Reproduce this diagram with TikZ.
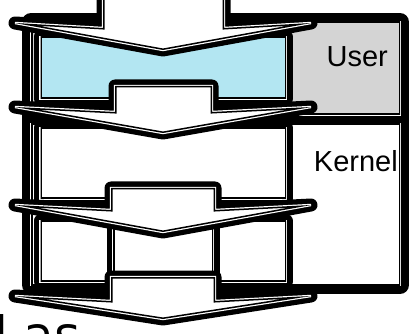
\documentclass[tikz,border=0pt]{standalone}
\usepackage{fontspec}
\setmainfont{Liberation Sans}
\newfontfamily\bigfont{DejaVu Sans}
\definecolor{usergray}{HTML}{D4D4D4}
\definecolor{boxblue}{HTML}{B3E6F2}
\newcommand\fancyshape[2]{%
  \draw[black,line width=13pt,line join=round] #2;
  \draw[white,line width=2.4pt] #2;
  \begin{scope}\clip #2; \fill[#1] #2; \draw[black,line width=3pt] #2; \end{scope}}
\begin{document}
\begin{tikzpicture}[x=1pt,y=-1pt]
\tikzset{lbl/.style={font=\fontsize{29}{32}\selectfont, inner sep=0pt},
  frameedge/.style={black,line width=18pt,line join=round}}
\useasboundingbox (0,0) rectangle (410,334);
% outer frame
\draw[frameedge] (31,22) rectangle (400,285);
\fancyshape{usergray}{(31,22) rectangle (400,115)}
\fancyshape{white}{(31,124) rectangle (400,285)}
% left boxes
\fancyshape{boxblue}{(40.5,37) rectangle (286,99)}
\fancyshape{white}{(40.5,128) rectangle (286,199)}
\fancyshape{white}{(40.5,221) rectangle (286,281.5)}
\fancyshape{white}{(113,222) rectangle (213,281.5)}
% block arrows
\fancyshape{white}{(103,-20) -- (103,28) -- (15,23) -- (163,50) -- (311,23) -- (224,28) -- (224,-20) -- cycle}
\fancyshape{white}{(115,86) -- (115,112) -- (15,107) -- (163,133) -- (311,107) -- (212,112) -- (212,86) -- cycle}
\fancyshape{white}{(111,188) -- (111,210) -- (15,205) -- (163,232) -- (311,205) -- (215,210) -- (215,188) -- cycle}
\fancyshape{white}{(111,277) -- (111,301) -- (15,296) -- (163,319) -- (311,296) -- (215,301) -- (215,277) -- cycle}
% labels
\node[lbl, anchor=base east] (user) at (388,67) {User};
\node[lbl, anchor=base east] (kernel) at (398,172) {Kernel};
\node[anchor=base west, inner sep=0pt, font=\bigfont\fontsize{50}{56}\selectfont] (bottom) at (-24,352) {d as};
\end{tikzpicture}
\end{document}
